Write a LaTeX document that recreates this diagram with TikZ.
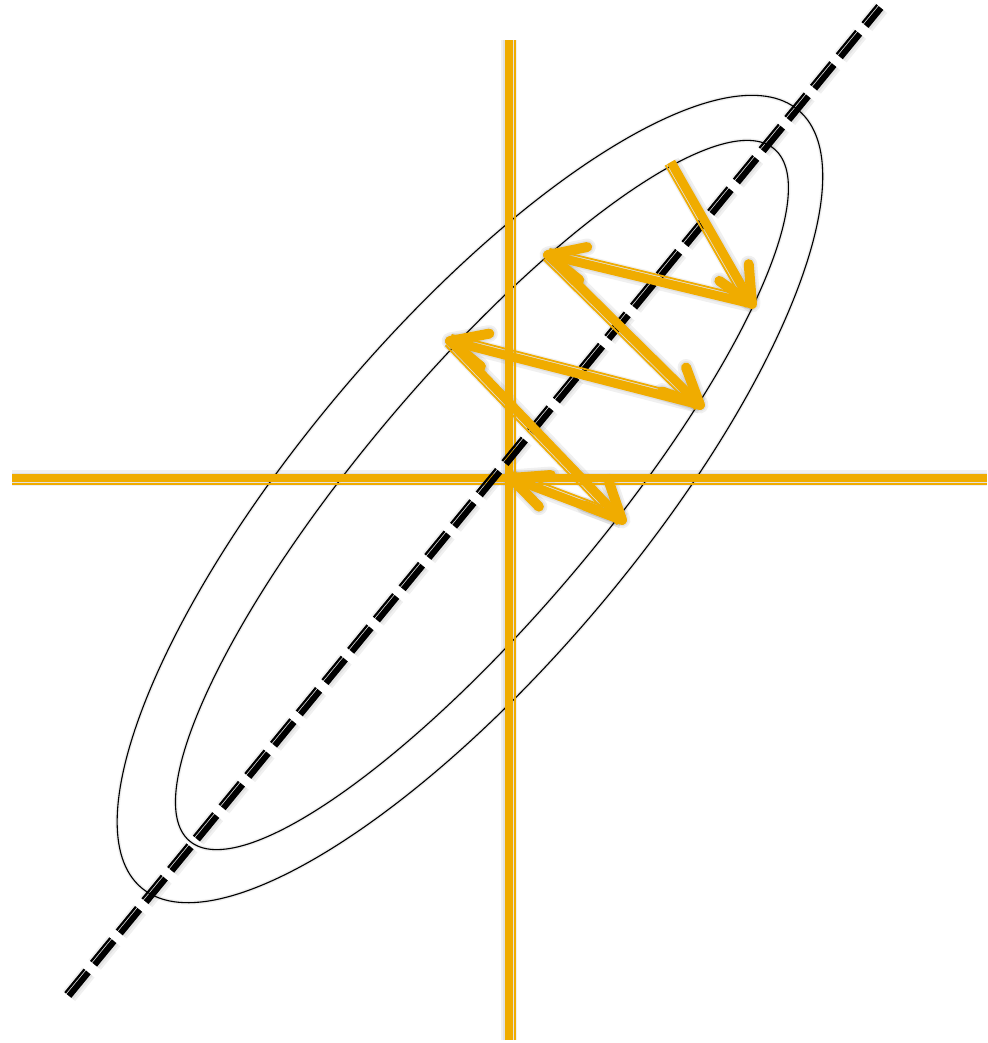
\documentclass[tikz,border=0pt]{standalone}
\usetikzlibrary{calc}
\definecolor{orng}{RGB}{240,172,0}
\newcommand\twoline[5]{\draw[#1] (#3) -- (#4); \draw[#2] ($(#3)!#5!-90:(#4)$) -- ($(#4)!#5!90:(#3)$);}
\newcommand\ahead[2]{\draw[hd] ($(#2)!40pt!25:(#1)$) -- (#2) -- ($(#2)!40pt!-25:(#1)$);}
\newcommand\scene{%
  \draw[ell, rotate around={49.8:(co)}] (co) ellipse[x radius=509pt, y radius=168pt];
  \draw[ell, rotate around={49.8:(ci)}] (ci) ellipse[x radius=453pt, y radius=120pt];
  \twoline{thk}{thn}{vb}{vt}{6.2pt}
  \twoline{thk}{thn}{hl}{hr}{6.2pt}
  \twoline{dthk}{dthn}{db}{dt}{-5pt}
  \twoline{athk}{thn}{p0}{p1}{6.3pt}\ahead{p0}{p1}
  \twoline{athk}{thn}{p1}{p2}{6.3pt}\ahead{p1}{p2}
  \twoline{athk}{thn}{p2}{p3}{6.3pt}\ahead{p2}{p3}
  \twoline{athk}{thn}{p3}{p4}{6.3pt}\ahead{p3}{p4}
  \twoline{athk}{thn}{p4}{p5}{6.3pt}\ahead{p4}{p5}
  \twoline{athk}{thn}{p5}{p6}{6.3pt}\ahead{p5}{p6}
}
\begin{document}
\begin{tikzpicture}[x=1pt,y=-1pt,
  ell/.style={draw=black, line width=1.1pt},
  thk/.style={draw=orng, line width=8pt},
  athk/.style={draw=orng, line width=9pt},
  thn/.style={draw=orng, line width=1.8pt},
  dthk/.style={draw=black, line width=6pt, dash pattern=on 30.5pt off 10pt},
  dthn/.style={draw=black, line width=2.2pt, dash pattern=on 30.5pt off 10pt},
  hd/.style={draw=orng, line width=10pt, line cap=round, line join=round},
  sh/.style={draw=black, opacity=0.06}]
\useasboundingbox (0,0) rectangle (987,1043);
\coordinate (co) at (470,499);
\coordinate (ci) at (482,495);
\coordinate (vb) at (508.5,1040);
\coordinate (vt) at (508.5,40);
\coordinate (hl) at (12,478);
\coordinate (hr) at (987,478);
\coordinate (db) at (69,996);
\coordinate (dt) at (881,8);
\coordinate (p0) at (671,162);
\coordinate (p1) at (752,304);
\coordinate (p2) at (548,255);
\coordinate (p3) at (700,405);
\coordinate (p4) at (450,341);
\coordinate (p5) at (622,520);
\coordinate (p6) at (511,478);
% soft shadow
\begin{scope}[shift={(2,4)},
  ell/.style={sh, line width=4pt},
  thk/.style={sh, line width=16pt},
  athk/.style={sh, line width=17pt},
  thn/.style={draw=none},
  dthk/.style={sh, line width=16pt, dash pattern=on 30.5pt off 10pt},
  dthn/.style={draw=none},
  hd/.style={sh, line width=17pt, line cap=round, line join=round}]
  \scene
\end{scope}
\begin{scope}[shift={(1,2.5)},
  ell/.style={sh, line width=2pt},
  thk/.style={sh, line width=11pt},
  athk/.style={sh, line width=12pt},
  thn/.style={draw=none},
  dthk/.style={sh, line width=11pt, dash pattern=on 30.5pt off 10pt},
  dthn/.style={draw=none},
  hd/.style={sh, line width=13pt, line cap=round, line join=round}]
  \scene
\end{scope}
\scene
\end{tikzpicture}
\end{document}
